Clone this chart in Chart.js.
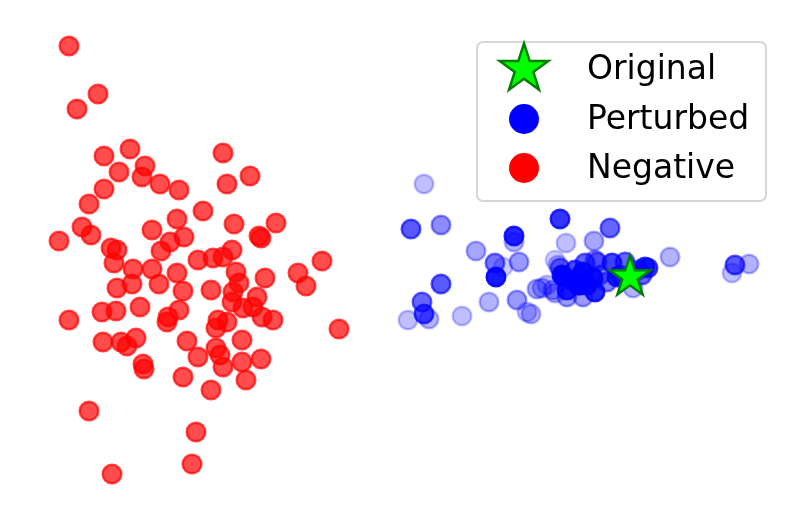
<!DOCTYPE html>
<html>
<head>
<meta charset="utf-8">
<script src="https://cdn.jsdelivr.net/npm/chart.js@4.4.0/dist/chart.umd.min.js"></script>
<style>
  html, body { margin: 0; padding: 0; background: #fff; }
</style>
</head>
<body>
<canvas id="myChart" width="808" height="521"></canvas>
<script>
// embedding coordinates (y grows downward, axis is reversed)
const negX = [69, 98, 77, 104, 130, 145, 119, 142, 160, 179, 223, 227, 250, 104, 89, 203, 177, 82, 91, 59,
  152, 234, 276, 184, 170, 161, 261, 259, 111, 117, 232, 223, 213, 198, 322, 114, 133, 152, 177, 236,
  298, 117, 132, 159, 183, 211, 239, 265, 306, 233, 257, 232, 243, 253, 102, 116, 140, 179, 168, 167,
  262, 273, 69, 218, 227, 216, 339, 103, 121, 136, 127, 187, 216, 242, 198, 220, 242, 261, 143, 144,
  223, 183, 246, 211, 89, 196, 192, 112];
const negY = [46, 94, 109, 156, 149, 166, 172, 177, 184, 190, 153, 184, 176, 189, 204, 211, 219, 227, 235, 241,
  230, 224, 223, 237, 242, 251, 238, 236, 248, 250, 250, 257, 258, 260, 261, 263, 269, 269, 273, 272,
  273, 288, 284, 284, 291, 290, 283, 278, 286, 292, 297, 302, 308, 307, 312, 311, 307, 310, 317, 322,
  317, 320, 320, 320, 322, 328, 329, 342, 342, 338, 346, 341, 348, 340, 357, 355, 362, 359, 364, 369,
  367, 377, 380, 390, 411, 432, 464, 474];

const pertX = [424, 411, 441, 560, 514, 514, 610, 566, 594, 476, 519, 495, 503, 496, 670, 735, 749, 732,
  441, 422, 424, 429, 408, 462, 489, 517, 531, 527, 537, 547, 558, 555, 560, 564, 583, 587, 595, 578,
  567, 583, 555, 595, 612, 625, 648, 638, 642, 620, 633, 607, 542, 553, 575, 600,
  562, 567, 580, 593, 617, 585, 645, 597, 572];
const pertY = [184, 229, 225, 219, 236, 242, 228, 243, 241, 251, 262, 263, 267, 277, 257, 265, 264, 273,
  284, 302, 314, 319, 320, 316, 302, 300, 314, 312, 289, 285, 265, 260, 268, 277, 272, 285, 292, 285,
  297, 297, 293, 260, 263, 262, 268, 270, 275, 275, 288, 282, 288, 290, 270, 275,
  275, 290, 285, 278, 277, 263, 267, 262, 280];
const pertAlpha = [0.25, 0.65, 0.45, 0.8, 0.85, 0.3, 0.6, 0.25, 0.35, 0.35, 0.4, 0.55, 0.2, 0.9, 0.3, 0.65, 0.3, 0.25,
  0.65, 0.6, 0.7, 0.3, 0.25, 0.25, 0.3, 0.4, 0.3, 0.25, 0.35, 0.25, 0.25, 0.2, 0.5, 0.9, 0.9, 0.9, 0.85, 0.8,
  0.4, 0.4, 0.3, 0.4, 0.75, 0.6, 0.7, 0.5, 0.6, 0.6, 0.3, 0.5, 0.3, 0.35, 0.7, 0.5,
  0.9, 0.85, 0.9, 0.9, 0.8, 0.6, 0.8, 0.5, 0.9];

const origX = [630];
const origY = [276];

const labels = ["Original", "Perturbed", "Negative"];

function starPath(ctx, cx, cy, R) {
  let r = R * 0.381966;
  ctx.beginPath();
  for (let i = 0; i < 10; i++) {
    let a = -Math.PI / 2 + (i * Math.PI) / 5;
    let rad = i % 2 === 0 ? R : r;
    let x = cx + rad * Math.cos(a);
    let y = cy + rad * Math.sin(a);
    if (i === 0) ctx.moveTo(x, y);
    else ctx.lineTo(x, y);
  }
  ctx.closePath();
}

function drawStar(ctx, cx, cy, R) {
  starPath(ctx, cx, cy, R);
  ctx.fillStyle = "#00ff00";
  ctx.fill();
  ctx.lineWidth = 2.5;
  ctx.lineJoin = "miter";
  ctx.strokeStyle = "#008000";
  ctx.stroke();
}

let starImg = document.createElement("canvas");
starImg.width = 52;
starImg.height = 52;
drawStar(starImg.getContext("2d"), 26, 27, 21.5);

function toPoints(xs, ys) {
  return xs.map((x, i) => ({ x, y: ys[i] }));
}

const boxLegend = {
  id: "boxLegend",
  afterDraw(chart) {
    let ctx = chart.ctx;
    ctx.save();
    ctx.beginPath();
    ctx.roundRect(477, 42, 289, 159, 6);
    ctx.fillStyle = "rgba(255,255,255,0.8)";
    ctx.fill();
    ctx.lineWidth = 2;
    ctx.strokeStyle = "#d6d6d6";
    ctx.stroke();

    let rows = [69, 119, 168];
    ctx.font = "33px 'DejaVu Sans'";
    ctx.textBaseline = "middle";
    labels.forEach((name, i) => {
      let y = rows[i];
      if (i === 0) {
        drawStar(ctx, 524, y, 25.5);
      } else {
        ctx.beginPath();
        ctx.arc(524, y, 15, 0, Math.PI * 2);
        ctx.fillStyle = i === 1 ? "#0000ff" : "#ff0000";
        ctx.fill();
      }
      ctx.fillStyle = "#000";
      ctx.fillText(name, 587, y + 1);
    });
    ctx.restore();
  },
};

let ctx = document.getElementById("myChart").getContext("2d");

let myChart = new Chart(ctx, {
  type: "scatter",
  data: {
    datasets: [
      {
        label: labels[0],
        data: toPoints(origX, origY),
        pointStyle: starImg,
        pointRadius: 20,
        order: 0,
        clip: false,
      },
      {
        label: labels[1],
        data: toPoints(pertX, pertY),
        backgroundColor: pertAlpha.map((a) => `rgba(0,0,255,${a})`),
        borderColor: pertAlpha.map((a) => `rgba(0,0,255,${a})`),
        borderWidth: 2.5,
        pointRadius: 9.3,
        order: 1,
        clip: false,
      },
      {
        label: labels[2],
        data: toPoints(negX, negY),
        backgroundColor: "rgba(255,0,0,0.7)",
        borderColor: "rgba(255,0,0,0.7)",
        borderWidth: 2.5,
        pointRadius: 9.3,
        order: 2,
        clip: false,
      },
    ],
  },
  options: {
    responsive: false,
    animation: false,
    devicePixelRatio: 1,
    layout: { padding: 0, autoPadding: false },
    scales: {
      x: { type: "linear", display: false, min: 0, max: 808 },
      y: { type: "linear", display: false, min: 0, max: 521, reverse: true },
    },
    plugins: {
      legend: { display: false },
      tooltip: { enabled: false },
    },
  },
  plugins: [boxLegend],
});
</script>
</body>
</html>
